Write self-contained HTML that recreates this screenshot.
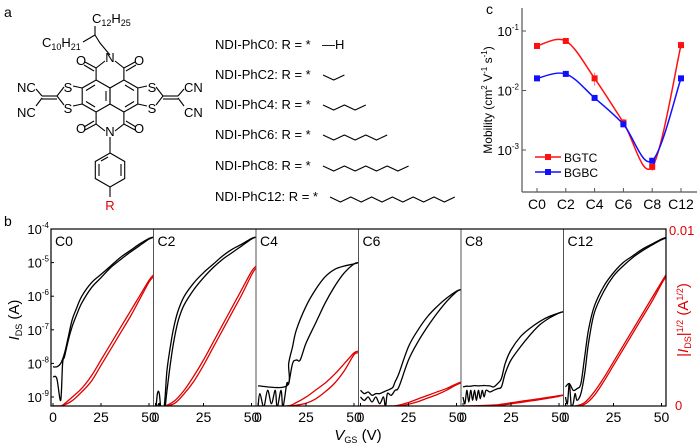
<!DOCTYPE html>
<html><head><meta charset="utf-8">
<style>
html,body{margin:0;padding:0;background:#fff;}
svg{display:block;font-family:"Liberation Sans",Arial,sans-serif;}
</style></head>
<body>
<svg id="fig" width="700" height="445" viewBox="0 0 700 445" xmlns="http://www.w3.org/2000/svg">
  <g id="panel-a" stroke="#000" stroke-width="1.1" fill="none">
    <text x="4" y="17" font-size="14" fill="#000" stroke="none">a</text>
    <polygon points="96.1,80 110,88 110,104 96.1,112 82.2,104 82.2,88"/>
    <polygon points="123.9,80 137.8,88 137.8,104 123.9,112 110,104 110,88"/>
    <line x1="86" y1="90.5" x2="95" y2="85"/><line x1="86" y1="101.5" x2="95" y2="107"/>
    <line x1="134" y1="90.5" x2="125" y2="85"/><line x1="134" y1="101.5" x2="125" y2="107"/>
    <line x1="106" y1="91" x2="106" y2="101"/>
    <polyline points="96.1,80 96.1,68 105,61"/><polyline points="123.9,80 123.9,68 115,61"/>
    <line x1="96.1" y1="68" x2="85" y2="62"/><line x1="94" y1="71" x2="84" y2="65"/>
    <line x1="123.9" y1="68" x2="135" y2="62"/><line x1="126" y1="71" x2="136" y2="65"/>
    <polyline points="96.1,112 96.1,124 105,131"/><polyline points="123.9,112 123.9,124 115,131"/>
    <line x1="96.1" y1="124" x2="85" y2="130"/><line x1="94" y1="121" x2="84" y2="127"/>
    <line x1="123.9" y1="124" x2="135" y2="130"/><line x1="126" y1="121" x2="136" y2="127"/>
    <polyline points="82.2,88 73,86"/><polyline points="82.2,104 73,106"/>
    <polyline points="64,87 57,96 64,105"/>
    <line x1="57" y1="96" x2="42" y2="96"/><line x1="57" y1="99" x2="42" y2="99"/>
    <line x1="42" y1="96" x2="36" y2="89"/><line x1="42" y1="98" x2="36" y2="106"/>
    <polyline points="137.8,88 147,86"/><polyline points="137.8,104 147,106"/>
    <polyline points="156,87 163,96 156,105"/>
    <line x1="163" y1="96" x2="178" y2="96"/><line x1="163" y1="99" x2="178" y2="99"/>
    <line x1="178" y1="96" x2="184" y2="89"/><line x1="178" y1="98" x2="184" y2="106"/>
    <line x1="110" y1="137" x2="110" y2="153"/>
    <polygon points="110,153 124.7,161.5 124.7,178.5 110,187 95.3,178.5 95.3,161.5"/>
    <line x1="99" y1="164" x2="99" y2="176"/><line x1="121" y1="164" x2="121" y2="176"/><line x1="108" y1="157" x2="101" y2="161"/>
    <line x1="110" y1="187" x2="110" y2="197"/>
    <polyline points="110,55 100,43 95,35 95,26"/>
    <polyline points="95,35 83,42"/>
    <g stroke="none" fill="#000" font-size="13">
      <text x="110" y="62" text-anchor="middle">N</text>
      <text x="110" y="136" text-anchor="middle">N</text>
      <text x="81" y="65" text-anchor="middle">O</text>
      <text x="139" y="65" text-anchor="middle">O</text>
      <text x="81" y="133" text-anchor="middle">O</text>
      <text x="139" y="133" text-anchor="middle">O</text>
      <text x="68" y="92" text-anchor="middle">S</text>
      <text x="68" y="113" text-anchor="middle">S</text>
      <text x="152" y="92" text-anchor="middle">S</text>
      <text x="152" y="113" text-anchor="middle">S</text>
      <text x="17" y="92">NC</text>
      <text x="17" y="117">NC</text>
      <text x="184" y="92">CN</text>
      <text x="184" y="117">CN</text>
      <text x="92" y="23">C<tspan font-size="9" dy="3">12</tspan><tspan dy="-3">H</tspan><tspan font-size="9" dy="3">25</tspan></text>
      <text x="42" y="47">C<tspan font-size="9" dy="3">10</tspan><tspan dy="-3">H</tspan><tspan font-size="9" dy="3">21</tspan></text>
      <text x="110" y="210" text-anchor="middle" fill="#e00000">R</text>
    </g>
  </g>
  <g id="rlist" font-size="13" fill="#000"></g>
  <g id="panel-b"></g>
  <g id="panel-c"></g>
</svg>
<script>
const NS = "http://www.w3.org/2000/svg";
function mk(tag, attrs, parent){ const e=document.createElementNS(NS,tag); for(const k in attrs) e.setAttribute(k,attrs[k]); parent.appendChild(e); return e; }
function smoothPath(P){
  let d='M'+P[0][0].toFixed(1)+','+P[0][1].toFixed(1);
  for(let i=0;i<P.length-1;i++){
    const p0=P[Math.max(0,i-1)],p1=P[i],p2=P[i+1],p3=P[Math.min(P.length-1,i+2)];
    const c1=[p1[0]+(p2[0]-p0[0])/6,p1[1]+(p2[1]-p0[1])/6];
    const c2=[p2[0]-(p3[0]-p1[0])/6,p2[1]-(p3[1]-p1[1])/6];
    d+=' C'+c1.map(n=>n.toFixed(1)).join(',')+' '+c2.map(n=>n.toFixed(1)).join(',')+' '+p2.map(n=>n.toFixed(1)).join(',');
  }
  return d;
}

// ---------- R-group list ----------
const rNames = ["NDI-PhC0:","NDI-PhC2:","NDI-PhC4:","NDI-PhC6:","NDI-PhC8:","NDI-PhC12:"];
const rChainLen = [0,2,4,6,8,12];
(function(){
  const g=document.getElementById('rlist');
  const rowY=[49,79,109,139,170,201];
  rNames.forEach((n,i)=>{
    const t=mk('text',{x:215,y:rowY[i]},g);
    
    
    t.textContent=n+"  R = *";
    const x0 = i===5?330:323;
    if(rChainLen[i]===0){
      const h=mk('text',{x:322,y:rowY[i]},g); h.textContent="—H";
       
    } else {
      const seg = i===5?10.4:10.7; let pts=[];
      for(let k=0;k<=rChainLen[i];k++) pts.push((x0+k*seg)+","+(rowY[i]-4+(k%2?5:0)));
      const p=mk('polyline',{points:pts.join(' '),fill:'none',stroke:'#000','stroke-width':1.1},g);
       
    }
  });
})();

// ---------- Panel b data ----------
const panelNames = ["C0","C2","C4","C6","C8","C12"];
const vFwd = [
 [0,2,4,5,6,8,10,12,15,20,25,30,35,40,45,50,52.3],
 [0,1,2,3,4,5,6,8,10,12,15,20,25,30,35,40,45,50,52.3],
 [0,15,16,18,20,25,30,35,40,45,50,52.3],
 [0,2,4,6,8,10,12,14,16,17,18,20,25,30,35,40,45,50,52.3],
 [0,2,4,6,8,10,12,14,16,18,20,22,25,30,35,40,45,50,52.3],
 [0,2,4,6,8,10,12,15,20,25,30,35,40,45,50,52.3]
];
const logFwd = [
 [-8.4,-8.45,-9.1,-8.0,-7.8,-7.3,-6.9,-6.6,-6.2,-5.75,-5.45,-5.15,-4.92,-4.7,-4.5,-4.3,-4.25],
 [-9.5,-8.9,-8.9,-9.5,-9.5,-9.0,-8.2,-7.4,-6.8,-6.4,-6.0,-5.6,-5.3,-5.05,-4.8,-4.6,-4.45,-4.28,-4.24],
 [-8.67,-8.67,-8.0,-7.5,-7.0,-6.3,-5.8,-5.42,-5.2,-5.1,-5.04,-5.0],
 [-8.8,-8.9,-8.85,-8.95,-8.9,-8.9,-8.85,-8.8,-8.75,-8.7,-8.55,-8.3,-7.5,-7.0,-6.6,-6.3,-6.05,-5.85,-5.8],
 [-8.7,-8.68,-8.68,-8.66,-8.67,-8.66,-8.66,-8.67,-8.7,-8.6,-8.45,-8.0,-7.6,-7.2,-6.95,-6.75,-6.6,-6.5,-6.46],
 [-8.7,-8.6,-8.8,-8.75,-8.6,-7.8,-7.0,-6.3,-5.7,-5.3,-5.0,-4.8,-4.6,-4.45,-4.3,-4.25]
];
const vRev = [
 [0,2,4,6,8,10,12,15,20,25,30,35,40,45,50,52.3],
 [0,1,2,3,4,5,6,8,10,12,15,20,25,30,35,40,45,50,52.3],
 [0,1,3,5,7,9,10,12,13,15,16,18,20,22,25,30,35,40,45,50,52.3],
 [0,2,4,6,8,10,12,13,14,16,18,20,25,30,35,40,45,50,52.3],
 [0,1,2,3,4,5,6,7,8,9,10,11,12,14,16,18,20,22,25,30,35,40,45,50,52.3],
 [0,1,2,3,4,5,6,8,10,12,15,20,25,30,35,40,45,50,52.3]
];
const logRev = [
 [-8.1,-8.1,-8.0,-7.7,-7.2,-6.7,-6.4,-6.0,-5.6,-5.35,-5.1,-4.85,-4.65,-4.45,-4.28,-4.24],
 [-9.5,-9.3,-9.2,-9.5,-9.5,-9.3,-8.8,-7.9,-7.2,-6.7,-6.25,-5.8,-5.45,-5.15,-4.9,-4.7,-4.5,-4.3,-4.24],
 [-9.3,-8.9,-9.3,-8.8,-9.2,-8.8,-9.3,-8.8,-9.3,-8.6,-8.6,-8.0,-7.9,-7.9,-7.4,-6.8,-6.2,-5.7,-5.3,-5.04,-5.0],
 [-9.0,-9.1,-9.0,-9.15,-9.0,-9.2,-9.0,-9.3,-8.9,-8.95,-8.8,-8.7,-7.9,-7.35,-6.9,-6.5,-6.15,-5.87,-5.8],
 [-9.0,-9.2,-8.8,-9.15,-8.8,-9.1,-8.8,-9.1,-8.8,-9.05,-8.8,-9.0,-8.8,-8.85,-8.8,-8.75,-8.7,-8.3,-7.9,-7.5,-7.15,-6.85,-6.65,-6.5,-6.46],
 [-9.0,-9.2,-8.6,-9.27,-9.2,-8.9,-9.1,-8.9,-8.3,-7.4,-6.5,-5.85,-5.4,-5.1,-4.85,-4.65,-4.48,-4.32,-4.27]
];
const vRed = [
 [0,3,5,10,15,20,25,30,35,40,45,50,52.3],
 [0,3,5,10,15,20,25,30,35,40,45,50,52.3],
 [0,15,20,25,30,35,40,45,50,52.3],
 [0,15,20,25,30,35,40,45,50,52.3],
 [0,15,20,25,30,35,40,45,50,52.3],
 [0,5,10,15,20,25,30,35,40,45,50,52.3]
];
const sqrtFwd = [
 [0,0,0.05,0.5,1.0,1.7,2.6,3.5,4.4,5.3,6.2,7.1,7.4],
 [0,0,0,0.3,0.9,1.7,2.6,3.6,4.6,5.6,6.6,7.6,7.9],
 [0,0,0.2,0.5,0.9,1.3,1.8,2.4,3.0,3.1],
 [0,0,0.05,0.2,0.4,0.6,0.8,1.0,1.25,1.35],
 [0,0.05,0.1,0.18,0.26,0.34,0.42,0.5,0.58,0.62],
 [0,0,0.2,0.8,1.6,2.5,3.4,4.3,5.2,6.1,7.0,7.4]
];
const sqrtRev = [
 [0,0,0.02,0.3,0.8,1.4,2.3,3.2,4.1,5.0,6.0,7.0,7.3],
 [0,0,0,0.15,0.7,1.4,2.3,3.3,4.3,5.3,6.3,7.4,7.8],
 [0,0,0.05,0.15,0.4,0.8,1.3,2.0,2.9,3.0],
 [0,0,0,0.1,0.25,0.45,0.65,0.9,1.2,1.3],
 [0,0,0.05,0.12,0.2,0.28,0.36,0.45,0.55,0.6],
 [0,0,0.1,0.6,1.4,2.3,3.2,4.1,5.0,5.9,6.9,7.3]
];
const logTicks = [-4,-5,-6,-7,-8,-9];
const vTicks = [0,25,50];

const bLeft=51, bTop=229, bBot=406, bW=102.5, bRight=bLeft+6*bW;
function bx(p,v){ return bLeft+p*bW+2+v*1.92; }
function by(lg){ return bTop+(-4-lg)*33.6; }
function byR(s){ return bBot-s/10*(bBot-bTop); }

(function(){
  const g=document.getElementById('panel-b');
  const defs=mk('defs',{},g);
  for(let p=0;p<6;p++){
    const cp=mk('clipPath',{id:'clip'+p},defs);
    mk('rect',{x:bLeft+p*bW,y:bTop,width:bW,height:bBot-bTop},cp);
  }
  const lbl=mk('text',{x:4,y:226,'font-size':14},g); lbl.textContent='b';
   
  for(let p=0;p<6;p++){
    const pg=mk('g',{'clip-path':'url(#clip'+p+')'},g);
     
    const line=(vs,vals,fn,col,name)=>{
      const P=vs.map((v,i)=>[bx(p,v),fn(vals[i])]);
      const pl=mk('path',{d:smoothPath(P),fill:'none',stroke:col,'stroke-width':1.3,'stroke-linejoin':'round'},pg);
       
    };
    line(vRed[p],sqrtFwd[p],byR,'#e00000','sqrt-current-forward-'+panelNames[p]);
    line(vRed[p],sqrtRev[p],byR,'#e00000','sqrt-current-reverse-'+panelNames[p]);
    line(vFwd[p],logFwd[p],by,'#000','log-current-forward-'+panelNames[p]);
    line(vRev[p],logRev[p],by,'#000','log-current-reverse-'+panelNames[p]);
    const t=mk('text',{x:bLeft+p*bW+4,y:bTop+17,'font-size':14},g);
     
    t.textContent=panelNames[p];
    if(p>0){ const d=mk('line',{x1:bLeft+p*bW,y1:bTop,x2:bLeft+p*bW,y2:bBot,stroke:'#555','stroke-width':1},g);
        }
    vTicks.forEach(v=>{
      const x=bx(p,v);
      mk('line',{x1:x,y1:bBot,x2:x,y2:bBot-3,stroke:'#000'},g);
      const tx=mk('text',{x:x,y:bBot+16,'font-size':14,'text-anchor':'middle'},g);
       
      tx.textContent=v;
    });
  }
  const fr=mk('rect',{x:bLeft,y:bTop,width:bRight-bLeft,height:bBot-bTop,fill:'none',stroke:'#000','stroke-width':1.2},g);
   
  logTicks.forEach(lg=>{
    const y=by(lg);
    mk('line',{x1:bLeft,y1:y,x2:bLeft+3,y2:y,stroke:'#000'},g);
    const t=mk('text',{x:bLeft-2,y:y+5,'font-size':13,'text-anchor':'end'},g);
     
    t.innerHTML='10<tspan font-size="8" dy="-6">'+lg+'</tspan>';
  });
  const r1=mk('text',{x:bRight+3,y:bTop+6,'font-size':13,fill:'#e00000'},g); r1.textContent='0.01';
   
  const r0=mk('text',{x:bRight+9,y:bBot+4,'font-size':13,fill:'#e00000'},g); r0.textContent='0';
   
  const yl=mk('text',{transform:'translate(19,320) rotate(-90)','font-size':15,'text-anchor':'middle'},g);
   
  yl.innerHTML='<tspan font-style="italic">I</tspan><tspan font-size="9" dy="3">DS</tspan><tspan dy="-3"> (A)</tspan>';
  const yr=mk('text',{transform:'translate(688,320) rotate(-90)','font-size':15,'text-anchor':'middle',fill:'#e00000'},g);
   
  yr.innerHTML='|<tspan font-style="italic">I</tspan><tspan font-size="9" dy="3">DS</tspan><tspan dy="-3">|</tspan><tspan font-size="9" dy="-5">1/2</tspan><tspan dy="5"> (A</tspan><tspan font-size="9" dy="-5">1/2</tspan><tspan dy="5">)</tspan>';
  const xl=mk('text',{x:358,y:440,'font-size':15,'text-anchor':'middle'},g);
   
  xl.innerHTML='<tspan font-style="italic">V</tspan><tspan font-size="9" dy="3">GS</tspan><tspan dy="-3"> (V)</tspan>';
})();

// ---------- Panel c data ----------
const cCats = ["C0","C2","C4","C6","C8","C12"];
const bgtc = [0.056,0.068,0.016,0.0029,0.00052,0.058];
const bgbc = [0.016,0.019,0.0075,0.0027,0.00066,0.016];
const bgtcErr = [0.003,0.004,0.004,0.0004,0.00008,0.008];
const cTicks = [-1,-2,-3];

const cL=522, cB=192;
function cx(i){ return 537+i*28.8; }
function cy(v){ return 31+(-1-Math.log10(v))*59.5; }

(function(){
  const g=document.getElementById('panel-c');
  const lbl=mk('text',{x:486,y:14,'font-size':14},g); lbl.textContent='c';
   
  mk('line',{x1:cL,y1:8,x2:cL,y2:cB,stroke:'#555','stroke-width':1.2},g);
  mk('line',{x1:cL,y1:cB,x2:697,y2:cB,stroke:'#555','stroke-width':1.2},g);
  cTicks.forEach(e=>{
    const y=31+(-1-e)*59.5;
    mk('line',{x1:cL,y1:y,x2:cL+4,y2:y,stroke:'#555'},g);
    const t=mk('text',{x:cL-3,y:y+5,'font-size':13,'text-anchor':'end'},g);
     
    t.innerHTML='10<tspan font-size="8" dy="-6">'+e+'</tspan>';
  });
  cCats.forEach((c,i)=>{
    mk('line',{x1:cx(i),y1:cB,x2:cx(i),y2:cB-4,stroke:'#555'},g);
    const t=mk('text',{x:cx(i),y:cB+17,'font-size':14,'text-anchor':'middle'},g);
     
    t.textContent=c;
  });
  const yl=mk('text',{transform:'translate(492,100) rotate(-90)','font-size':12,'text-anchor':'middle'},g);
   
  yl.innerHTML='Mobility (cm<tspan font-size="8" dy="-5">2</tspan><tspan dy="5"> V</tspan><tspan font-size="8" dy="-5">-1</tspan><tspan dy="5"> s</tspan><tspan font-size="8" dy="-5">-1</tspan><tspan dy="5">)</tspan>';
  bgtc.forEach((v,i)=>{
    const e=mk('line',{x1:cx(i),y1:cy(v+bgtcErr[i]),x2:cx(i),y2:cy(v-bgtcErr[i]),stroke:'#f08080','stroke-width':1},g);
     
  });
  const series=[[bgtc,'#ff1010','bgtc'],[bgbc,'#1010ff','bgbc']];
  series.forEach(([vals,col,nm])=>{
    const p=mk('path',{d:smoothPath(vals.map((v,i)=>[cx(i),cy(v)])),fill:'none',stroke:col,'stroke-width':1.5},g);
     
    vals.forEach((v,i)=>{
      const r=mk('rect',{x:cx(i)-3,y:cy(v)-3,width:6,height:6,fill:col},g);
       
    });
  });
  [['BGTC','#ff1010',157],['BGBC','#1010ff',172]].forEach(([n,col,y])=>{
    const lg=mk('g',{},g);
     
    mk('line',{x1:535,y1:y,x2:561,y2:y,stroke:col,'stroke-width':1.5},lg);
    mk('rect',{x:545,y:y-3,width:6,height:6,fill:col},lg);
    const t=mk('text',{x:564,y:y+5,'font-size':12},lg); t.textContent=n;
  });
})();
</script>
</body></html>
